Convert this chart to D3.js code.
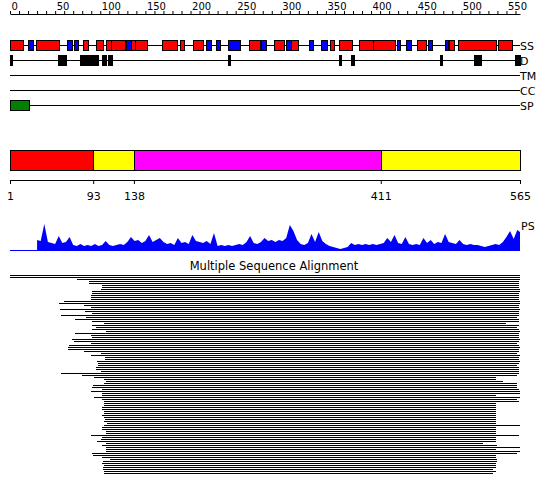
<!DOCTYPE html>
<html>
<head>
<meta charset="utf-8">
<script src="https://cdn.jsdelivr.net/npm/d3@7"></script>
<style>
body {margin: 0; background: #fff}
svg {display: block; font-family: "DejaVu Sans", sans-serif}
</style>
</head>
<body>
<svg id="vis" width="550" height="495"></svg>
<script>
const seqLength = 565

// secondary structure, residue ranges
const helixRanges = [[1,14],[30,55],[82,87],[96,103],[107,112],[113,128],[135,139],[140,152],[169,185],[189,192],[204,214],
    [266,277],[293,303],[312,319],[356,359],[366,379],[388,402],[403,426],[452,461],[487,492],[497,538],[542,556]]
const strandRanges = [[21,25],[64,68],[72,75],[130,134],[218,223],[229,232],[242,254],[279,283],[307,311],[332,335],
    [346,352],[430,432],[440,444],[464,467],[483,485]]
const disorderRanges = [[1,2],[54,62],[78,97],[103,106],[110,113],[242,243],[365,366],[379,381],[477,478],[515,522],[560,565]]
const signalRanges = [[1,21]]
const trackNames = ['SS', 'D', 'TM', 'CC', 'SP']

// domain bar
const domainStart = [1, 93, 138, 411]
const domainEnd = [93, 138, 411, 565]
const domainKind = ['A', 'L', 'B', 'L']
const domainTicks = [1, 93, 138, 411, 565]

// PS profile
const psPos = d3.range(30, 563, 4).concat([565])
const psValues = [10,9,26,8,7,6,14,7,8,13,
    5,4,6,4,5,4,6,4,5,9,
    5,4,5,6,5,8,13,9,10,7,
    9,15,8,10,12,8,6,7,5,12,
    7,8,6,15,9,8,7,9,6,17,
    4,5,4,5,4,5,6,5,8,14,
    7,6,8,12,9,10,8,10,9,12,
    25,19,10,6,5,7,16,8,18,9,
    6,4,3,2,1,2,3,7,5,6,
    5,6,5,6,5,6,7,12,8,15,
    7,6,13,6,5,6,5,12,7,10,
    6,8,7,16,8,7,6,10,6,5,
    6,5,5,4,3,4,5,6,5,8,
    13,19,11,20,18]

// alignment rows (first / last aligned residue)
const msaStart = [1,1,75,89,89,103,103,102,92,92,
    91,91,91,61,55,83,91,56,84,92,
    58,85,73,92,105,92,96,92,107,73,
    91,92,70,72,91,66,65,65,83,102,
    91,106,106,97,99,99,96,96,
    102,58,81,94,105,107,105,93,92,103,
    91,103,103,94,103,105,105,105,103,103,
    105,105,103,105,106,105,109,105,103,103,
    107,107,91,103,102,97,107,103,107,107,
    107,92,93,103,112,104,103,105,104,104,105,105]
const msaEnd = [565,565,565,564,564,564,564,565,565,564,
    564,564,564,565,565,564,564,565,564,564,
    564,562,564,564,549,564,562,564,565,564,
    564,564,565,564,562,564,565,564,564,562,
    565,564,564,565,564,562,564,564,
    564,564,562,538,538,546,562,562,562,564,
    565,565,538,565,562,564,538,538,538,538,
    538,538,538,538,538,538,538,565,538,538,
    538,538,564,538,538,538,524,539,565,538,
    565,562,538,538,539,539,538,538,538,535,538,535]

const svg = d3.select('#vis')
const x = d3.scaleLinear([0, seqLength], [10, 520])
const trackY = d3.scalePoint(trackNames, [45, 105])

// ruler on top
const ruler = d3.axisTop(x)
    .tickValues(d3.range(0, 561, 10))
    .tickSize(3).tickSizeOuter(0).tickPadding(1)
    .tickFormat(d => d % 50 ? '' : d)
svg.append('g')
    .attr('transform', 'translate(0,14)')
    .call(ruler)
    .call(g => g.attr('font-family', null).attr('font-size', 10))
    .call(g => g.selectAll('text').attr('text-anchor', 'start').attr('dx', 1))

// track lines + labels
svg.selectAll('.track')
    .data(trackNames).enter()
    .append('line')
    .attr('x1', x(0)).attr('x2', x(seqLength))
    .attr('y1', d => trackY(d) + 0.5).attr('y2', d => trackY(d) + 0.5)
    .attr('stroke', 'black')

svg.selectAll('.track-label')
    .data(trackNames).enter()
    .append('text')
    .attr('x', 520)
    .attr('y', d => trackY(d) + 5)
    .attr('font-size', 11)
    .text(d => d)

function drawBoxes(ranges, track, fill, stroke, h){
    let y = trackY(track)
    svg.append('g').selectAll('rect')
        .data(ranges).enter()
        .append('rect')
        .attr('x', d => Math.round(x(d[0] - 1)) + 0.5)
        .attr('width', d => Math.max(1, Math.round(x(d[1]) - x(d[0] - 1))))
        .attr('y', y - h + 0.5)
        .attr('height', h * 2)
        .attr('fill', fill)
        .attr('stroke', stroke)
        .attr('shape-rendering', 'crispEdges')
}

drawBoxes(helixRanges, 'SS', '#ff0000', 'black', 5)
drawBoxes(strandRanges, 'SS', '#0000ff', 'black', 5)
drawBoxes(disorderRanges, 'D', 'black', 'black', 5)
drawBoxes(signalRanges, 'SP', '#008000', 'black', 5)

// domain bar
const xd = d3.scaleLinear([1, seqLength], [10, 520])
const domainColor = d3.scaleOrdinal(['A', 'L', 'B'], ['#ff0000', '#ffff00', '#ff00ff'])

svg.append('g').selectAll('rect')
    .data(domainStart).enter()
    .append('rect')
    .attr('x', d => Math.round(xd(d)) + 0.5)
    .attr('width', (d, i) => Math.round(xd(domainEnd[i]) - xd(d)))
    .attr('y', 150.5)
    .attr('height', 20)
    .attr('fill', (d, i) => domainColor(domainKind[i]))
    .attr('stroke', 'black')
    .attr('shape-rendering', 'crispEdges')

svg.append('g')
    .attr('transform', 'translate(0,180)')
    .call(d3.axisBottom(xd).tickValues(domainTicks).tickSize(4).tickSizeOuter(0).tickPadding(8))
    .call(g => g.attr('font-family', null).attr('font-size', 11))

// PS profile
const psY = d3.scaleLinear([0, 30], [250, 220])
const psArea = d3.area()
    .x((d, i) => x(psPos[i]))
    .y0(psY(0))
    .y1(d => psY(d))

svg.append('path')
    .datum(psValues)
    .attr('d', psArea)
    .attr('fill', '#0000ff')

svg.append('line')
    .attr('x1', x(0)).attr('x2', x(seqLength))
    .attr('y1', psY(0) + 0.5).attr('y2', psY(0) + 0.5)
    .attr('stroke', '#0000ff')

svg.append('text')
    .attr('x', 521).attr('y', 230)
    .attr('font-size', 11)
    .text('PS')

// alignment
svg.append('text')
    .attr('x', 274).attr('y', 270)
    .attr('text-anchor', 'middle')
    .attr('font-size', 11.5)
    .text('Multiple Sequence Alignment')

const rowY = d3.scaleLinear([0, msaStart.length - 1], [275, 473])

svg.append('g').selectAll('rect')
    .data(msaStart).enter()
    .append('rect')
    .attr('x', d => x(d - 1))
    .attr('width', (d, i) => x(msaEnd[i]) - x(d - 1))
    .attr('y', (d, i) => Math.round(rowY(i)))
    .attr('height', 1)
    .attr('fill', 'black')
    .attr('shape-rendering', 'crispEdges')
</script>
</body>
</html>
